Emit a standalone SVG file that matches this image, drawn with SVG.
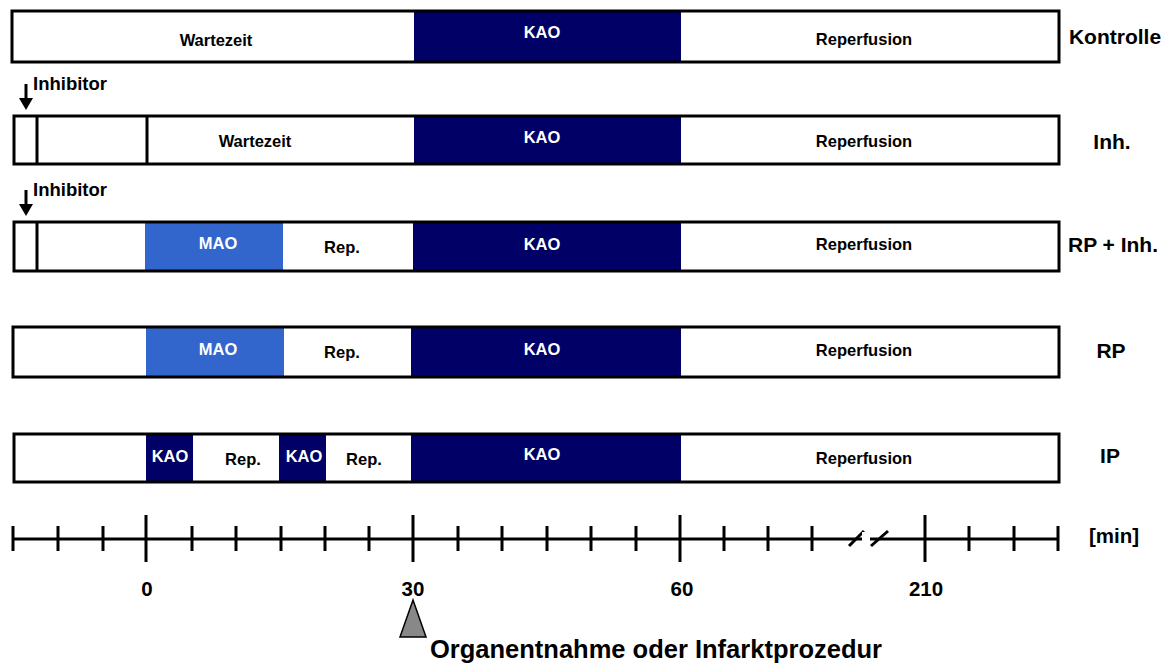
<svg xmlns="http://www.w3.org/2000/svg" width="1168" height="663" viewBox="0 0 1168 663">
<style>
text{font-family:"Liberation Sans",Arial,sans-serif;font-weight:bold;}
.in{font-size:16.5px;text-anchor:middle;fill:#000;}
.w{font-size:16.5px;text-anchor:middle;fill:#fff;}
.lbl{font-size:21px;text-anchor:middle;}
.box{fill:none;stroke:#000;stroke-width:3;}
.kao{fill:#000066;}
.mao{fill:#3366cc;}
.div{stroke:#000;stroke-width:3;}
.ax{stroke:#000;stroke-width:3;fill:none;}
.num{font-size:20.5px;text-anchor:middle;}
</style>
<rect width="1168" height="663" fill="#fff"/>

<g id="row-kontrolle">
<rect class="kao" x="414" y="11" width="267" height="51"/>
<rect class="box" x="12" y="11" width="1047" height="51"/>
<text class="in" x="216" y="46">Wartezeit</text>
<text class="w" x="542" y="38">KAO</text>
<text class="in" x="864" y="45">Reperfusion</text>
<text class="lbl" x="1115" y="44">Kontrolle</text>
</g>

<g id="inhibitor-1">
<line class="div" x1="26" y1="84" x2="26" y2="100"/>
<path d="M19,98 L33,98 L26,110 Z" fill="#000"/>
<text x="33" y="90" font-size="18.5">Inhibitor</text>
</g>

<g id="row-inh">
<rect class="kao" x="414" y="116" width="267" height="48"/>
<rect class="box" x="14" y="116" width="1045" height="48"/>
<line class="div" x1="37" y1="116" x2="37" y2="164"/>
<line class="div" x1="147" y1="116" x2="147" y2="164"/>
<text class="in" x="255" y="147">Wartezeit</text>
<text class="w" x="542" y="143">KAO</text>
<text class="in" x="864" y="147">Reperfusion</text>
<text class="lbl" x="1112" y="149">Inh.</text>
</g>

<g id="inhibitor-2">
<line class="div" x1="26" y1="190" x2="26" y2="206"/>
<path d="M19,204 L33,204 L26,216 Z" fill="#000"/>
<text x="33" y="196" font-size="18.5">Inhibitor</text>
</g>

<g id="row-rp-inh">
<rect class="mao" x="145" y="221" width="138" height="50"/>
<rect class="kao" x="413" y="221" width="268" height="50"/>
<rect class="box" x="14" y="222" width="1045" height="49"/>
<line class="div" x1="37" y1="222" x2="37" y2="271"/>
<text class="w" x="218" y="249">MAO</text>
<text class="in" x="342" y="253">Rep.</text>
<text class="w" x="542" y="250">KAO</text>
<text class="in" x="864" y="250">Reperfusion</text>
<text class="lbl" x="1113" y="252">RP + Inh.</text>
</g>

<g id="row-rp">
<rect class="mao" x="146" y="327" width="138" height="50"/>
<rect class="kao" x="411" y="327" width="270" height="50"/>
<rect class="box" x="13" y="327" width="1046" height="50"/>
<text class="w" x="218" y="355">MAO</text>
<text class="in" x="342" y="358">Rep.</text>
<text class="w" x="542" y="355">KAO</text>
<text class="in" x="864" y="356">Reperfusion</text>
<text class="lbl" x="1111" y="358">RP</text>
</g>

<g id="row-ip">
<rect class="kao" x="146" y="433" width="47" height="49"/>
<rect class="kao" x="279" y="433" width="47" height="49"/>
<rect class="kao" x="411" y="433" width="270" height="49"/>
<rect class="box" x="14" y="434" width="1045" height="48"/>
<text class="w" x="170" y="462">KAO</text>
<text class="in" x="243" y="465">Rep.</text>
<text class="w" x="304" y="462">KAO</text>
<text class="in" x="364" y="465">Rep.</text>
<text class="w" x="542" y="460">KAO</text>
<text class="in" x="864" y="464">Reperfusion</text>
<text class="lbl" x="1110" y="463">IP</text>
</g>

<g id="connectors">
<g id="time-axis" class="ax">
<line x1="13" y1="539" x2="1059" y2="539"/>
<path d="M13,526V551 M58,526V551 M103,526V551 M192,526V551 M236,526V551 M281,526V551 M325,526V551 M369,526V551 M458,526V551 M502,526V551 M547,526V551 M591,526V551 M636,526V551 M724,526V551 M768,526V551 M812,526V551 M969,526V551 M1014,526V551 M1058,526V551"/>
<path d="M146,515V562 M413,515V562 M680,515V562 M925,515V562"/>
<line x1="849" y1="546" x2="864" y2="531" stroke-width="3"/>
<line x1="871" y1="546" x2="888" y2="531" stroke-width="3"/>
</g>
<rect x="862" y="532" width="8" height="14" fill="#fff"/>
</g>

<g id="axis-labels">
<text class="num" x="147" y="596">0</text>
<text class="num" x="413" y="596">30</text>
<text class="num" x="682" y="596">60</text>
<text class="num" x="926" y="596">210</text>
<text class="num" x="1114" y="543">[min]</text>
</g>

<g id="organentnahme">
<path d="M413,600 L426,637 L400,637 Z" fill="#888" stroke="#000" stroke-width="1.5"/>
<text x="430" y="658" font-size="25.5">Organentnahme oder Infarktprozedur</text>
</g>
</svg>
